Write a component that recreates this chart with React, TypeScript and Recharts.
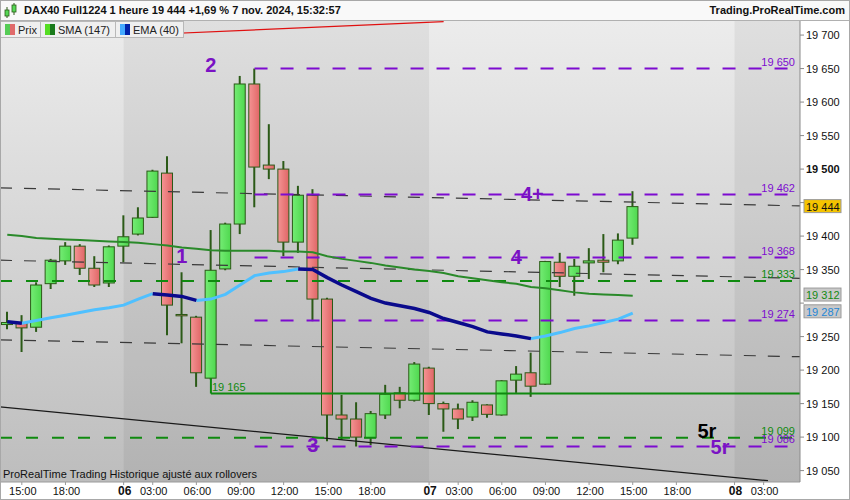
import { ComposedChart, Bar, Line, XAxis, YAxis, ReferenceLine, ReferenceArea, ReferenceDot } from 'recharts'

const FONT = '"Liberation Sans", Arial, sans-serif'

// hourly candles, DAX40 Full1224, 5 nov 15:00 -> 7 nov 15:00
const opens = [
  19268, 19270, 19264, 19329, 19363, 19385, 19352, 19330, 19385, 19403, 19428,
  19494, 19283, 19279, 19188, 19351, 19418, 19627, 19506, 19500, 19391, 19461,
  19306, 19133, 19127, 19099, 19133, 19166, 19155, 19203, 19150, 19142, 19130,
  19148, 19133, 19185, 19196, 19179, 19361, 19340, 19360, 19364, 19363, 19397,
]
const highs = [
  19287, 19282, 19331, 19366, 19391, 19388, 19370, 19386, 19431, 19443, 19499,
  19519, 19346, 19281, 19409, 19420, 19639, 19650, 19567, 19512, 19475, 19470,
  19308, 19163, 19152, 19139, 19178, 19175, 19212, 19205, 19153, 19150, 19155,
  19149, 19185, 19206, 19226, 19363, 19375, 19366, 19382, 19403, 19404, 19467,
]
const lows = [
  19261, 19227, 19257, 19321, 19357, 19342, 19324, 19324, 19361, 19401, 19427,
  19252, 19240, 19175, 19186, 19349, 19403, 19443, 19485, 19370, 19375, 19273,
  19094, 19096, 19086, 19088, 19127, 19143, 19153, 19133, 19108, 19112, 19124,
  19129, 19132, 19166, 19160, 19178, 19324, 19311, 19336, 19346, 19358, 19387,
]
const closes = [
  19271, 19263, 19327, 19364, 19385, 19352, 19327, 19384, 19399, 19427, 19497,
  19297, 19281, 19196, 19349, 19418, 19627, 19503, 19500, 19391, 19461, 19306,
  19133, 19127, 19100, 19135, 19164, 19155, 19209, 19150, 19142, 19127, 19152,
  19134, 19184, 19194, 19176, 19362, 19340, 19355, 19363, 19361, 19394, 19444,
]
const sma147 = [
  19402, 19400, 19397, 19396, 19395, 19394, 19393, 19392, 19391, 19390, 19388,
  19386, 19383, 19381, 19379, 19378, 19378, 19378, 19378, 19377, 19377, 19376,
  19370, 19366, 19363, 19360, 19356, 19353, 19350, 19348, 19345, 19340, 19337,
  19334, 19331, 19329, 19324, 19322, 19319, 19316, 19314, 19313, 19312, 19311,
]
const ema40 = [
  19272, 19270, 19274, 19278, 19282, 19286, 19290, 19293, 19297, 19306, 19314,
  19312, 19310, 19304, 19306, 19313, 19327, 19341, 19345, 19347, 19351, 19350,
  19338, 19327, 19317, 19307, 19300, 19296, 19292, 19286, 19277, 19271, 19265,
  19257, 19254, 19251, 19247, 19251, 19256, 19262, 19266, 19271, 19276, 19285,
]

const xTickIdx = [1, 4, 8, 10, 13, 16, 19, 22, 25, 29, 31, 34, 37, 40, 43, 46, 50, 52]
const xTickText = ['15:00', '18:00', '06', '03:00', '06:00', '09:00', '12:00', '15:00', '18:00', '07', '03:00', '06:00', '09:00', '12:00', '15:00', '18:00', '08', '03:00']
const yTicks = [19050, 19100, 19150, 19200, 19250, 19300, 19350, 19400, 19450, 19500, 19550, 19600, 19650, 19700]

// support / resistance levels
const purpleLevels = [19650, 19462, 19368, 19274, 19086]
const greenDashLevels = [19333, 19099]
const supportLevel = 19165

// channel lines [start, end]
const channels = [
  [19472, 19445],
  [19364, 19337],
  [19245, 19220],
]
const redTrend = [19699, 19720]
const blackTrend = [19145, 19035]

const waveLabels = [
  { t: '2', i: 14, p: 19655, c: '#7a12c4' },
  { t: '1', i: 12, p: 19370, c: '#7a12c4' },
  { t: '3', i: 21, p: 19088, c: '#7a12c4' },
  { t: '4+', i: 36.1, p: 19463, c: '#7a12c4' },
  { t: '4', i: 35, p: 19369, c: '#7a12c4' },
  { t: '5r', i: 48.1, p: 19110, c: '#000000' },
  { t: '5r', i: 49, p: 19085, c: '#7a12c4' },
]

const Y_MIN = 19033
const Y_MAX = 19721
const X_MIN = -0.5
const X_MAX = 54.5
const PURPLE = '#7d0bd0'
const GREEN = '#0f8a0f'

const emaUp = ema40.map((v, i) => ((i > 0 && v > ema40[i - 1]) || (i < ema40.length - 1 && ema40[i + 1] > v) ? v : null))
const emaDown = ema40.map((v, i) => ((i > 0 && v < ema40[i - 1]) || (i < ema40.length - 1 && ema40[i + 1] < v) ? v : null))

const rows = opens.map((o, i) => ({
  i,
  o,
  h: highs[i],
  l: lows[i],
  c: closes[i],
  range: [lows[i], highs[i]],
  sma: sma147[i],
  emaUp: emaUp[i],
  emaDown: emaDown[i],
}))

function Candle(props: any) {
  const { x, y, width, height, payload } = props
  if (!payload || height == null) return null
  const { o, h, l, c } = payload
  const cx = x + width / 2
  const py = (p: number) => y + ((h - p) / (h - l)) * height
  const top = py(Math.max(o, c))
  const bot = py(Math.min(o, c))
  const up = c >= o
  return (
    <g>
      <line x1={cx} x2={cx} y1={y} y2={y + height} stroke="#2b5a17" strokeWidth={2} />
      <rect x={cx - 5.5} y={top} width={11} height={Math.max(bot - top, 1)} fill={up ? 'url(#gUp)' : 'url(#gDn)'} stroke="#2b5a17" strokeWidth={1} />
    </g>
  )
}

function PriceTick({ x, y, payload }: any) {
  const v = payload.value
  if (v === 19300 || v === 19450) return null
  const s = String(v)
  return (
    <text x={x} y={y + 4} fontSize={11} fontFamily={FONT} fill="#111" fontWeight={v === 19500 ? 'bold' : 'normal'}>
      {s.slice(0, 2) + ' ' + s.slice(2)}
    </text>
  )
}

function TimeTick({ x, y, payload }: any) {
  const k = xTickIdx.indexOf(payload.value)
  const t = xTickText[k] ?? ''
  const day = t.length === 2
  return (
    <text x={x + 1} y={y + 8} textAnchor="middle" fontSize={day ? 12 : 11} fontWeight={day ? 'bold' : 'normal'} fontFamily={FONT} fill="#111">
      {t}
    </text>
  )
}

const fmt = (v: number) => String(v).slice(0, 2) + ' ' + String(v).slice(2)

const levelText = (text: string, color: string, left = false) => (p: any) => {
  const vb = p.viewBox
  return (
    <text x={left ? vb.x + 1 : vb.x + vb.width - 5} y={vb.y - 3} textAnchor={left ? 'start' : 'end'} fontSize={11} fontFamily={FONT} fill={color}>
      {text}
    </text>
  )
}

const priceBox = (text: string, bg: string, color: string) => (p: any) => {
  const vb = p.viewBox
  const bx = vb.x + vb.width + 4
  return (
    <g>
      <rect x={bx} y={vb.y - 7} width={37} height={13} fill={bg} stroke="#9a9a9a" strokeWidth={1} />
      <text x={bx + 2} y={vb.y + 4} fontSize={11} fontFamily={FONT} fill={color}>
        {text}
      </text>
    </g>
  )
}

function Swatch({ a, b }: { a: string; b: string }) {
  return (
    <span style={{ display: 'inline-flex', width: 10, height: 11, marginRight: 3, flex: 'none' }}>
      <span style={{ width: 5, height: 11, background: a }} />
      <span style={{ width: 5, height: 11, background: b }} />
    </span>
  )
}

const legendBox: React.CSSProperties = {
  boxSizing: 'border-box',
  height: 17,
  display: 'flex',
  alignItems: 'center',
  padding: '0 0 0 4px',
  background: '#efefef',
  border: '1px solid #b8b8b8',
  marginRight: -1,
  whiteSpace: 'nowrap',
  overflow: 'hidden',
}

export default function App() {
  return (
    <div style={{ position: 'absolute', left: 0, top: 0, width: 850, height: 500, background: '#fff', fontFamily: FONT, overflow: 'hidden' }}>
      <ComposedChart width={850} height={500} data={rows} margin={{ top: 21, right: 0, bottom: 0, left: 0 }}>
        <defs>
          <linearGradient id="bg" x1="0" y1="0" x2="0" y2="1">
            <stop offset="0%" stopColor="#ececec" />
            <stop offset="100%" stopColor="#bdbdbd" />
          </linearGradient>
          <linearGradient id="gUp" x1="0" y1="0" x2="1" y2="0">
            <stop offset="0%" stopColor="#74ec74" />
            <stop offset="100%" stopColor="#4fd84f" />
          </linearGradient>
          <linearGradient id="gDn" x1="0" y1="0" x2="1" y2="0">
            <stop offset="0%" stopColor="#f49494" />
            <stop offset="100%" stopColor="#e06666" />
          </linearGradient>
        </defs>
        <XAxis
          dataKey="i"
          type="number"
          domain={[X_MIN, X_MAX]}
          allowDataOverflow
          ticks={xTickIdx}
          interval={0}
          height={18}
          tickSize={3}
          tickMargin={2}
          tick={<TimeTick />}
          stroke="#9a9a9a"
        />
        <YAxis
          orientation="right"
          domain={[Y_MIN, Y_MAX]}
          allowDataOverflow
          ticks={yTicks}
          interval={0}
          width={50}
          tickSize={4}
          tickMargin={2}
          tick={<PriceTick />}
          stroke="#8a8a8a"
        />
        <ReferenceArea x1={X_MIN} x2={X_MAX} y1={Y_MIN} y2={Y_MAX} fill="url(#bg)" fillOpacity={1} stroke="none" />
        <ReferenceArea x1={8} x2={29} y1={Y_MIN} y2={Y_MAX} fill="#000" fillOpacity={0.055} stroke="none" />
        <ReferenceArea x1={50} x2={X_MAX} y1={Y_MIN} y2={Y_MAX} fill="#000" fillOpacity={0.055} stroke="none" />

        <Bar dataKey="range" barSize={12} shape={<Candle />} isAnimationActive={false} />

        {channels.map(([a, b], k) => (
          <ReferenceLine key={'ch' + k} segment={[{ x: X_MIN, y: a }, { x: X_MAX, y: b }]} stroke="#3a3a3a" strokeWidth={1.2} strokeDasharray="12 12" />
        ))}
        <ReferenceLine segment={[{ x: 7.75, y: redTrend[0] }, { x: 30, y: redTrend[1] }]} stroke="#e01010" strokeWidth={1.2} />
        <ReferenceLine segment={[{ x: X_MIN, y: blackTrend[0] }, { x: 52.3, y: blackTrend[1] }]} stroke="#1a1a1a" strokeWidth={1.2} />

        {greenDashLevels.map((v) => (
          <ReferenceLine key={'g' + v} segment={[{ x: X_MIN, y: v }, { x: X_MAX, y: v }]} stroke={GREEN} strokeWidth={2} strokeDasharray="12 14" label={{ content: levelText(fmt(v), GREEN) }} />
        ))}
        <ReferenceLine segment={[{ x: 14, y: 19188 }, { x: 14, y: supportLevel }]} stroke={GREEN} strokeWidth={2} />
        <ReferenceLine segment={[{ x: 14, y: supportLevel }, { x: X_MAX, y: supportLevel }]} stroke={GREEN} strokeWidth={2} label={{ content: levelText(fmt(supportLevel), GREEN, true) }} />
        {purpleLevels.map((v) => (
          <ReferenceLine key={'p' + v} segment={[{ x: 17, y: v }, { x: X_MAX, y: v }]} stroke={PURPLE} strokeWidth={2} strokeDasharray="13 13" label={{ content: levelText(fmt(v), PURPLE) }} />
        ))}

        <Line dataKey="sma" stroke="#2a8a2a" strokeWidth={2} dot={false} isAnimationActive={false} />
        <Line dataKey="emaUp" stroke="#4fc0ff" strokeWidth={3} dot={false} connectNulls={false} isAnimationActive={false} />
        <Line dataKey="emaDown" stroke="#0a0a8c" strokeWidth={3.5} dot={false} connectNulls={false} isAnimationActive={false} />

        {waveLabels.map((w, k) => (
          <ReferenceDot key={'w' + k} x={w.i} y={w.p} r={0} fill="none" stroke="none" label={{ value: w.t, position: 'center', fill: w.c, fontSize: 20, fontWeight: 'bold', fontFamily: FONT }} />
        ))}

        <ReferenceLine y={19444} stroke="none" label={{ content: priceBox('19 444', '#f5c400', '#111') }} />
        <ReferenceLine y={19312} stroke="none" label={{ content: priceBox('19 312', '#c9c9c9', '#138a13') }} />
        <ReferenceLine y={19287} stroke="none" label={{ content: priceBox('19 287', '#c9c9c9', '#1f86d6') }} />
      </ComposedChart>

      <div style={{ position: 'absolute', left: 0, top: 0, width: 850, height: 20, background: '#f9f9f9', borderBottom: '1px solid #b0b0b0' }}>
        <svg width={14} height={16} style={{ position: 'absolute', left: 4, top: 3 }}>
          <line x1={3} x2={3} y1={4} y2={15} stroke="#2b5a17" strokeWidth={1} />
          <rect x={1} y={7} width={4} height={6} fill="#55d855" stroke="#2b5a17" strokeWidth={0.8} />
          <line x1={10} x2={10} y1={0} y2={12} stroke="#2b5a17" strokeWidth={1} />
          <rect x={8} y={2} width={4} height={7} fill="#55d855" stroke="#2b5a17" strokeWidth={0.8} />
        </svg>
        <div style={{ position: 'absolute', left: 24, top: 4, fontSize: 11, fontWeight: 'bold', color: '#111', whiteSpace: 'nowrap' }}>
          DAX40 Full1224 1 heure 19 444 +1,69 % 7 nov. 2024, 15:32:57
        </div>
        <div style={{ position: 'absolute', right: 5, top: 4, fontSize: 11, fontWeight: 'bold', color: '#111' }}>Trading.ProRealTime.com</div>
      </div>

      <div style={{ position: 'absolute', left: 0, top: 21, display: 'flex', fontSize: 11, color: '#222' }}>
        <div style={{ ...legendBox, width: 41 }}>
          <Swatch a="#55cc55" b="#e06a6a" />
          Prix
        </div>
        <div style={{ ...legendBox, width: 76 }}>
          <Swatch a="#55dd22" b="#1a7a1a" />
          SMA (147)
        </div>
        <div style={{ ...legendBox, width: 69 }}>
          <Swatch a="#44aaff" b="#0022aa" />
          EMA (40)
        </div>
      </div>

      <div style={{ position: 'absolute', left: 3, top: 468, fontSize: 11, color: '#111', whiteSpace: 'nowrap' }}>
        ProRealTime Trading Historique ajusté aux rollovers
      </div>
      <div style={{ position: 'absolute', left: 0, top: 0, width: 848, height: 498, border: '1px solid #a8a8a8', pointerEvents: 'none' }} />
    </div>
  )
}
